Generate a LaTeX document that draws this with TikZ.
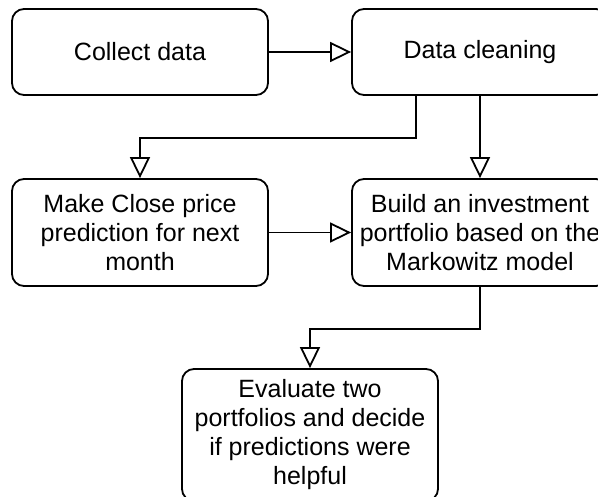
\documentclass[tikz,border=0pt]{standalone}
\usepackage{fontspec}
\setmainfont{Liberation Sans}
\usetikzlibrary{arrows.meta}
\begin{document}
\begin{tikzpicture}[x=1pt,y=-1pt,
  box/.style={draw=black, line width=1.8pt, rounded corners=12pt, fill=white,
    minimum width=256pt, align=center, inner sep=2pt,
    font=\fontsize{25}{29}\selectfont},
  arr/.style={line width=1.8pt, -{Triangle[open, length=21pt, width=20pt, line width=1.8pt, fill=white]}}]
\clip (0,0) rectangle (598,497);
\fill[white] (0,0) rectangle (598,497);
\node[box, minimum height=86pt] (cd) at (140,52) {Collect data};
\node[box, minimum height=86pt] (dc) at (480,52) {Data cleaning};
\node[box, minimum height=107pt] (mc) at (140,232.5) {Make Close price\\prediction for next\\month};
\node[box, minimum height=107pt] (bp) at (480,232.5) {Build an investment\\portfolio based on the\\Markowitz model};
\node[box, minimum height=132pt] (ev) at (310,435) {Evaluate two\\portfolios and decide\\if predictions were\\helpful};
\draw[arr] (cd.east) -- (dc.west);
\draw[arr] ([xshift=-64pt]dc.south) -- ++(0,42) -| (mc.north);
\draw[arr] (dc.south) -- (bp.north);
\draw[arr] (mc.east) -- (bp.west);
\draw[arr] (bp.south) -- ++(0,42) -| (ev.north);
\end{tikzpicture}
\end{document}
